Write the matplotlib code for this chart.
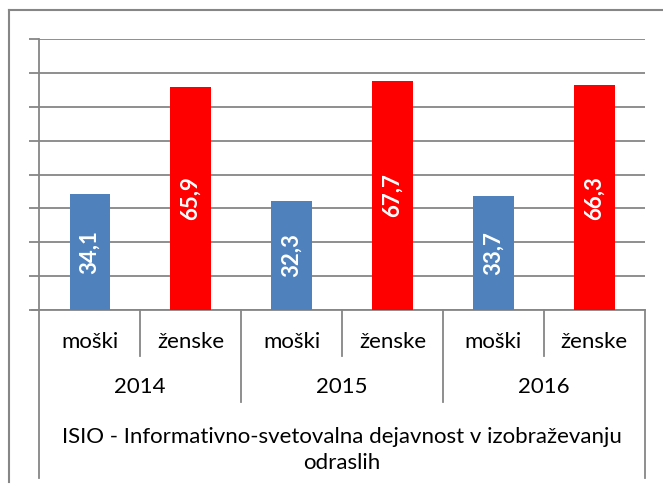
import matplotlib.pyplot as plt
from matplotlib.lines import Line2D

# podatki
leta = ["2014", "2015", "2016"]
spol = ["moški", "ženske"]
vrednosti = [34.1, 65.9, 32.3, 67.7, 33.7, 66.3]
oznake = ["34,1", "65,9", "32,3", "67,7", "33,7", "66,3"]
barve = ["#4F81BD", "#FF0000"]
naslov_osi = "ISIO - Informativno-svetovalna dejavnost v izobraževanju\nodraslih"

W, H = 663, 486
siva = "#868686"
plt.rcParams['font.family'] = ['Lato', 'DejaVu Sans']

fig = plt.figure(figsize=(W / 100, H / 100), dpi=100)

# plot area v pikslih
x0, x1 = 39.3, 644.8
y_top, y_bot = 39, 310
ax = fig.add_axes([x0 / W, (H - y_bot) / H, (x1 - x0) / W, (y_bot - y_top) / H])

n = len(vrednosti)
pos = list(range(n))
ax.bar(pos, vrednosti, width=0.4, color=[barve[i % 2] for i in range(n)], zorder=3)
ax.set_xlim(-0.5, n - 0.5)
ax.set_ylim(0, 80)
ax.set_yticks(range(0, 81, 10))
ax.set_yticklabels([])
ax.set_xticks([])
ax.grid(axis='y', color=siva, linewidth=1.3, zorder=0)
ax.tick_params(axis='y', length=7, width=1.3, color=siva)
for s in ["top", "right"]:
    ax.spines[s].set_visible(False)
for s in ["left", "bottom"]:
    ax.spines[s].set_color(siva)
    ax.spines[s].set_linewidth(1.3)

# oznake v stolpcih
for p, v, t in zip(pos, vrednosti, oznake):
    ax.text(p, v / 2, t, rotation=90, ha='center', va='center', color='white',
            fontsize=16, fontweight='bold', zorder=4)

# kategorijska os na več nivojih
tr = ax.get_xaxis_transform()


def ay(ypix):
    return (y_bot - ypix) / (y_bot - y_top)


# podaljšek spodnje osi levo
ax.add_line(Line2D([-0.5 - 7 / 100.9, -0.5], [0, 0], transform=tr, color=siva, lw=1.3, clip_on=False))

for i in range(n + 1):
    x = i - 0.5
    if i == 0 or i == n:
        yend = 478
    elif i % 2 == 0:
        yend = 402
    else:
        yend = 356
    ax.add_line(Line2D([x, x], [0, ay(yend)], transform=tr, color=siva, lw=1.3, clip_on=False))

for p in pos:
    ax.text(p, ay(341.7), spol[p % 2], transform=tr, ha='center', va='center', fontsize=16)
for i, l in enumerate(leta):
    ax.text(2 * i + 0.5, ay(387), l, transform=tr, ha='center', va='center', fontsize=16)
ax.text((n - 1) / 2, ay(450), naslov_osi, transform=tr, ha='center', va='center',
        multialignment='center', fontsize=16, linespacing=1.35)

# okvir grafikona
fig.add_artist(Line2D([9.3 / W, 9.3 / W], [(H - 10) / H, (H - 482) / H], color=siva, lw=1.5))
fig.add_artist(Line2D([9.3 / W, 1], [(H - 10) / H, (H - 10) / H], color=siva, lw=1.5))

fig.savefig("out.png", dpi=100)
